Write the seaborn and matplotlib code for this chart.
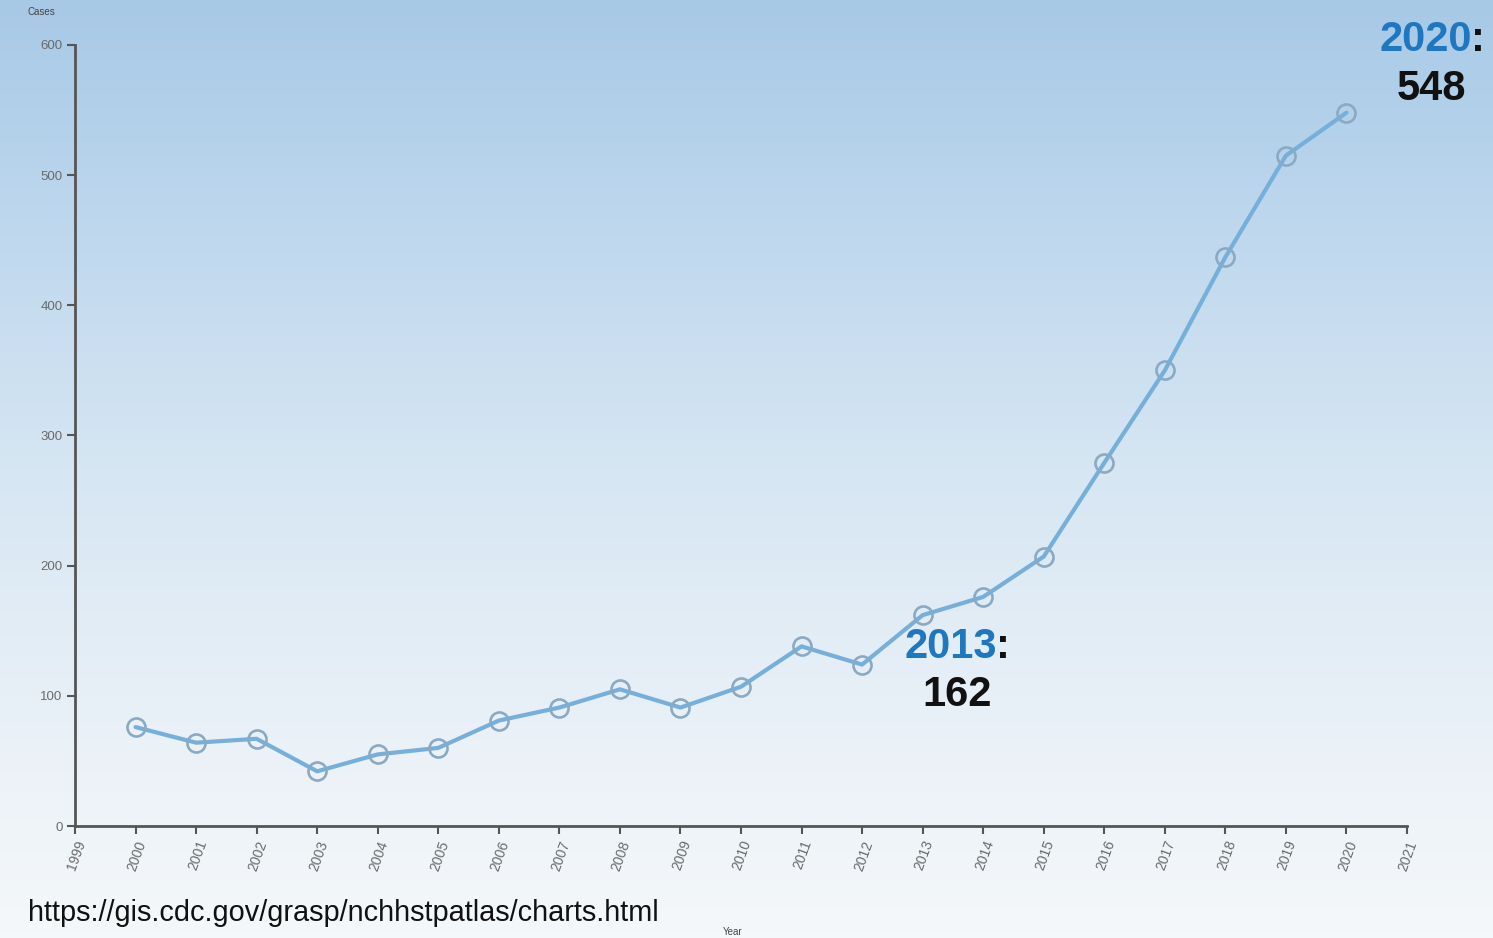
import numpy as np
import pandas as pd
import matplotlib
matplotlib.use("Agg")
import matplotlib.pyplot as plt
from matplotlib.colors import LinearSegmentedColormap
import seaborn as sns

# Annual reported cases
years = [2000, 2001, 2002, 2003, 2004, 2005, 2006, 2007, 2008, 2009, 2010,
         2011, 2012, 2013, 2014, 2015, 2016, 2017, 2018, 2019, 2020]
cases = [76, 64, 67, 42, 55, 60, 81, 91, 105, 91, 107,
         138, 124, 162, 176, 207, 279, 350, 437, 515, 548]

x_ticks = list(range(1999, 2022))
y_ticks = [0, 100, 200, 300, 400, 500, 600]

highlight_years = [2013, 2020]
source_url = "https://gis.cdc.gov/grasp/nchhstpatlas/charts.html"

sns.set_theme(style="white")
plt.rcParams["font.family"] = ["Liberation Sans", "DejaVu Sans"]

W, H = 1493, 938
fig = plt.figure(figsize=(W / 100, H / 100), dpi=100)

# Vertical blue-to-white backdrop
bg = fig.add_axes([0, 0, 1, 1], zorder=-10)
grad = np.linspace(0, 1, 256).reshape(-1, 1)
cmap = LinearSegmentedColormap.from_list(
    "sky", ["#a7c9e6", "#bfd8ee", "#d6e6f3", "#e8f0f7", "#f5f8fa"])
bg.imshow(grad, aspect="auto", cmap=cmap, extent=[0, 1, 0, 1], origin="upper")
bg.set_axis_off()

ax = fig.add_axes([75 / W, 1 - 826 / H, (1407 - 75) / W, (826 - 45) / H])
ax.patch.set_alpha(0)

df = pd.DataFrame({"Year": years, "Cases": cases})
sns.lineplot(data=df, x="Year", y="Cases", ax=ax, color="#76afd9",
             linewidth=3.0, marker="o", markersize=13,
             markerfacecolor="none", markeredgecolor="#8aaac4",
             markeredgewidth=1.9)

ax.set_xlim(1999, 2021)
ax.set_ylim(0, 600)
ax.set_xticks(x_ticks)
ax.set_yticks(y_ticks)
ax.set_xticklabels([str(y) for y in x_ticks], rotation=70, ha="right",
                   va="top", rotation_mode="anchor", fontsize=10,
                   color="#6a6a6a")
ax.set_yticklabels([str(v) for v in y_ticks], fontsize=9.5, color="#6a6a6a")
ax.tick_params(axis="both", direction="out", length=6, width=1.5,
               color="#555555", bottom=True, left=True, pad=3)
for side in ["top", "right"]:
    ax.spines[side].set_visible(False)
for side in ["left", "bottom"]:
    ax.spines[side].set_color("#555555")
    ax.spines[side].set_linewidth(2)
ax.set_xlabel("")
ax.set_ylabel("")

# Axis titles, small and off to the corners
fig.text(28 / W, 1 - 12 / H, "Cases", fontsize=7, color="#444444",
         ha="left", va="center")
fig.text(733 / W, 1 - 932 / H, "Year", fontsize=7, color="#444444",
         ha="center", va="center")

# Callouts for selected years
blue = "#1f78bf"
lookup = dict(zip(years, cases))
callouts = {
    2013: dict(yr_right=997, top=647, val_center=957, val_y=695),
    2020: dict(yr_right=1472, top=40, val_center=1431, val_y=89),
}
for yr in highlight_years:
    c = callouts[yr]
    fig.text(c["yr_right"] / W, 1 - c["top"] / H, str(yr), color=blue,
             fontsize=30, fontweight="bold", ha="right", va="center")
    fig.text((c["yr_right"] - 1) / W, 1 - c["top"] / H, ":", color="#111111",
             fontsize=30, fontweight="bold", ha="left", va="center")
    fig.text(c["val_center"] / W, 1 - c["val_y"] / H, str(lookup[yr]),
             color="#111111", fontsize=30, fontweight="bold",
             ha="center", va="center")

fig.text(28 / W, 1 - 913 / H, source_url, fontsize=20.8, color="#111111",
         ha="left", va="center")

fig.savefig("out.png", dpi=100)
